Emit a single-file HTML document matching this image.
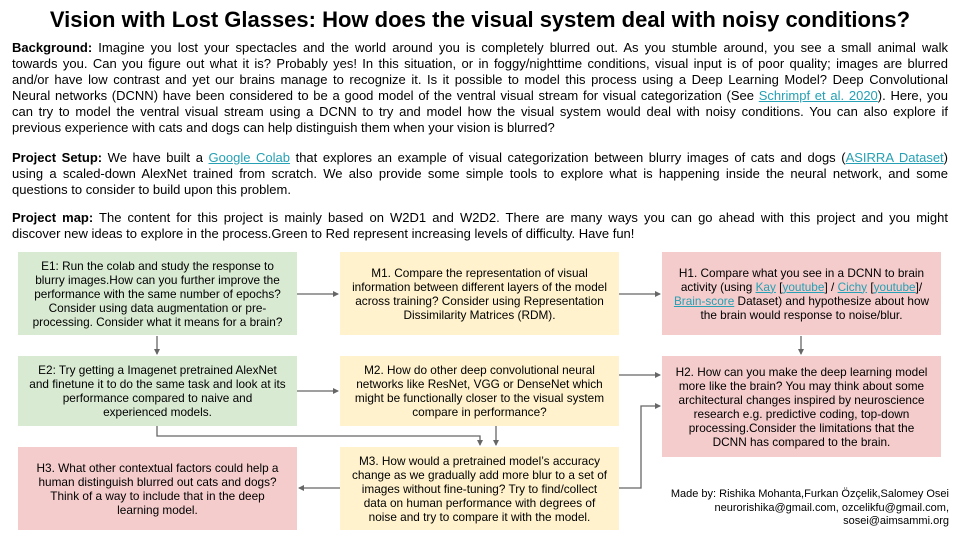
<!DOCTYPE html>
<html><head><meta charset="utf-8"><style>
body{margin:0;width:960px;height:540px;background:#fff;position:relative;overflow:hidden;font-family:"Liberation Sans",Arial,sans-serif;color:#000}
.t{position:absolute;left:0;width:960px;top:7px;text-align:center;font-weight:bold;font-size:22px}
.p{position:absolute;left:12px;width:936px;font-size:13px;line-height:16px}
.p div{text-align:justify;text-align-last:justify}
.p div.l{text-align-last:left}
a{color:#26a0b4;text-decoration:underline}
.b{position:absolute;display:flex;align-items:center;justify-content:center;text-align:center;font-size:11.8px;line-height:14px;box-sizing:border-box;white-space:nowrap}
.b>div{width:100%}
.g{background:#d9ead3}.y{background:#fff2cc}.r{background:#f4cccc}
.m{position:absolute;right:11px;top:488px;text-align:right;font-size:11px;line-height:13.5px}
</style></head><body>
<div class="t">Vision with Lost Glasses: How does the visual system deal with noisy conditions?</div>
<div class="p" style="top:40px">
<div><b>Background:</b> Imagine you lost your spectacles and the world around you is completely blurred out. As you stumble around, you see a small animal walk</div>
<div>towards you. Can you figure out what it is? Probably yes! In this situation, or in foggy/nighttime conditions, visual input is of poor quality; images are blurred</div>
<div>and/or have low contrast and yet our brains manage to recognize it. Is it possible to model this process using a Deep Learning Model? Deep Convolutional</div>
<div>Neural networks (DCNN) have been considered to be a good model of the ventral visual stream for visual categorization (See <a>Schrimpf et al. 2020</a>). Here, you</div>
<div>can try to model the ventral visual stream using a DCNN to try and model how the visual system would deal with noisy conditions. You can also explore if</div>
<div class="l">previous experience with cats and dogs can help distinguish them when your vision is blurred?</div>
</div>
<div class="p" style="top:150px">
<div><b>Project Setup:</b> We have built a <a>Google Colab</a> that explores an example of visual categorization between blurry images of cats and dogs (<a>ASIRRA Dataset</a>)</div>
<div>using a scaled-down AlexNet trained from scratch. We also provide some simple tools to explore what is happening inside the neural network, and some</div>
<div class="l">questions to consider to build upon this problem.</div>
</div>
<div class="p" style="top:210px">
<div><b>Project map:</b> The content for this project is mainly based on W2D1 and W2D2. There are many ways you can go ahead with this project and you might</div>
<div class="l">discover new ideas to explore in the process.Green to Red represent increasing levels of difficulty. Have fun!</div>
</div>

<div class="b g" style="left:18px;top:252px;width:279px;height:83px"><div>E1: Run the colab and study the response to<br>blurry images.How can you further improve the<br>performance with the same number of epochs?<br>Consider using data augmentation or pre-<br>processing. Consider what it means for a brain?</div></div>
<div class="b g" style="left:18px;top:356px;width:279px;height:70px"><div>E2: Try getting a Imagenet pretrained AlexNet<br>and finetune it to do the same task and look at its<br>performance compared to naive and<br>experienced models.</div></div>
<div class="b r" style="left:18px;top:447px;width:279px;height:83px"><div>H3. What other contextual factors could help a<br>human distinguish blurred out cats and dogs?<br>Think of a way to include that in the deep<br>learning model.</div></div>
<div class="b y" style="left:340px;top:252px;width:279px;height:83px"><div>M1. Compare the representation of visual<br>information between different layers of the model<br>across training? Consider using Representation<br>Dissimilarity Matrices (RDM).</div></div>
<div class="b y" style="left:340px;top:356px;width:279px;height:70px"><div>M2. How do other deep convolutional neural<br>networks like ResNet, VGG or DenseNet which<br>might be functionally closer to the visual system<br>compare in performance?</div></div>
<div class="b y" style="left:340px;top:447px;width:279px;height:83px"><div>M3. How would a pretrained model’s accuracy<br>change as we gradually add more blur to a set of<br>images without fine-tuning? Try to find/collect<br>data on human performance with degrees of<br>noise and try to compare it with the model.</div></div>
<div class="b r" style="left:662px;top:252px;width:279px;height:83px"><div>H1. Compare what you see in a DCNN to brain<br>activity (using <a>Kay</a> [<a>youtube</a>] / <a>Cichy</a> [<a>youtube</a>]/<br><a>Brain-score</a> Dataset) and hypothesize about how<br>the brain would response to noise/blur.</div></div>
<div class="b r" style="left:662px;top:356px;width:279px;height:101px"><div>H2. How can you make the deep learning model<br>more like the brain? You may think about some<br>architectural changes inspired by neuroscience<br>research e.g. predictive coding, top-down<br>processing.Consider the limitations that the<br>DCNN has compared to the brain.</div></div>
<div class="m">Made by: Rishika Mohanta,Furkan Özçelik,Salomey Osei<br>neurorishika@gmail.com, ozcelikfu@gmail.com,<br>sosei@aimsammi.org</div>

<svg width="960" height="540" style="position:absolute;left:0;top:0" fill="none" stroke="#666" stroke-width="1.3">
<defs><marker id="a" markerWidth="6" markerHeight="6" refX="5" refY="3" orient="auto" markerUnits="userSpaceOnUse"><path d="M0,0L6,3L0,6z" fill="#666" stroke="none"/></marker></defs>
<path d="M297,294H338" marker-end="url(#a)"/>
<path d="M619,294H660" marker-end="url(#a)"/>
<path d="M297,391H338" marker-end="url(#a)"/>
<path d="M619,375H660" marker-end="url(#a)"/>
<path d="M157,336V354" marker-end="url(#a)"/>
<path d="M801,336V354" marker-end="url(#a)"/>
<path d="M157,426V436H480V445" marker-end="url(#a)"/>
<path d="M496,426V445" marker-end="url(#a)"/>
<path d="M340,488H299" marker-end="url(#a)"/>
<path d="M619,488H641V406H660" marker-end="url(#a)"/>
</svg>
</body></html>
